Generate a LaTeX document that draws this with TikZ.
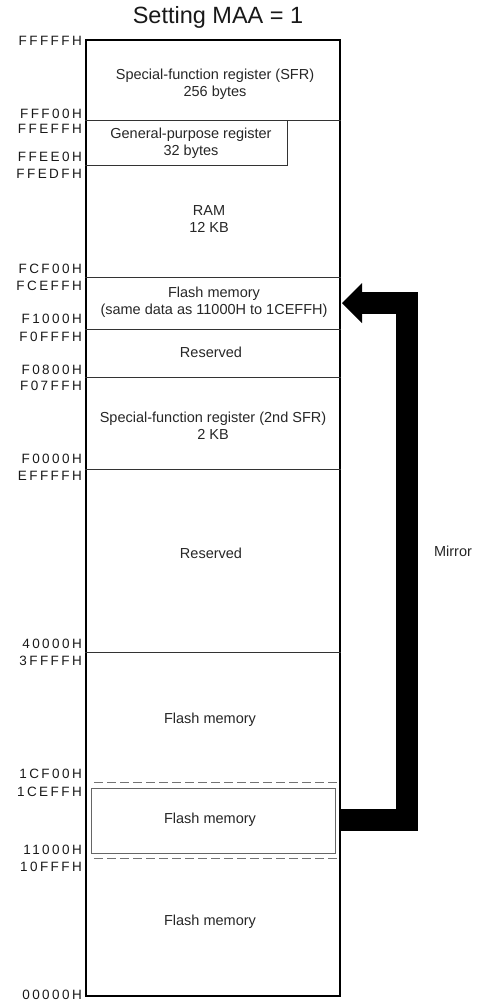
\documentclass[tikz,border=0pt]{standalone}
\usepackage{fontspec}
\setmainfont{Liberation Sans}
\newfontfamily\addrfont[LetterSpace=18]{Liberation Sans}
\usepackage{tikz}
\usetikzlibrary{positioning, arrows.meta}

\begin{document}
\begin{tikzpicture}[
        x=1pt, y=-1pt,
        mapbox/.style={rectangle, draw=black, line width=1.3pt, minimum width=254pt, minimum height=956pt, inner sep=0pt},
        sepline/.style={draw=black!80, line width=0.8pt},
        dashline/.style={draw=black!55, line width=0.8pt, dash pattern=on 9pt off 4pt},
        area/.style={align=center, text=black!85, font=\fontsize{14.5}{17}\selectfont, inner sep=0pt},
        addr/.style={anchor=east, inner sep=0pt, text=black!90, font=\addrfont\fontsize{13.5}{14}\selectfont},
        mirrorarrow/.style={line width=22pt, line join=miter, -{Triangle[length=20pt 0 0, width=40pt 0 0, line width=0pt 0 0]}}
    ]
    \useasboundingbox (0,0) rectangle (481,1002);
    \node[font=\fontsize{23.5}{26}\selectfont, text=black!90] (title) at (218,17) {Setting MAA = 1};
    \node[mapbox] (map) at (213,518) {};

    % boundaries
    \draw[sepline] (map.west |- 0,120) -- (map.east |- 0,120);
    \draw[sepline] (map.west |- 0,165) -- (287,165) -- (287,120);
    \draw[sepline] (map.west |- 0,277) -- (map.east |- 0,277);
    \draw[sepline] (map.west |- 0,329) -- (map.east |- 0,329);
    \draw[sepline] (map.west |- 0,377) -- (map.east |- 0,377);
    \draw[sepline] (map.west |- 0,469) -- (map.east |- 0,469);
    \draw[sepline] (map.west |- 0,652) -- (map.east |- 0,652);
    \draw[dashline] (94,782) -- (map.east |- 0,782);
    \draw[dashline] (94,858) -- (map.east |- 0,858);
    \node[draw=black!60, line width=0.8pt, minimum width=244pt, minimum height=65pt, inner sep=0pt] (srcbox) at (213.7,820.5) {};

    % areas
    \node[area] (sfr) at (215,84) {Special-function register (SFR)\\256 bytes};
    \node[area] (gpr) at (191,143) {General-purpose register\\32 bytes};
    \node[area] (ram) at (209,219) {RAM\\12 KB};
    \node[area] (flashmir) at (214,302) {Flash memory\\(same data as 11000H to 1CEFFH)};
    \node[area] (rsvA) at (211,352) {Reserved};
    \node[area] (sfrB) at (213,426) {Special-function register (2nd SFR)\\2 KB};
    \node[area] (rsvB) at (211,553) {Reserved};
    \node[area] (flashA) at (210,720) {Flash memory};
    \node[area] (flashsrc) at (210,820) {Flash memory};
    \node[area] (flashB) at (210,922) {Flash memory};
    \node[area] (mirror) at (453,551) {Mirror};

    % addresses
    \node[addr] (a1) at (82,41) {FFFFFH};
    \node[addr] (a2) at (82,114) {FFF00H};
    \node[addr] (a3) at (82,129) {FFEFFH};
    \node[addr] (a4) at (82,157) {FFEE0H};
    \node[addr] (a5) at (82,174) {FFEDFH};
    \node[addr] (a6) at (82,269) {FCF00H};
    \node[addr] (a7) at (82,286) {FCEFFH};
    \node[addr] (a8) at (82,319) {F1000H};
    \node[addr] (a9) at (82,337) {F0FFFH};
    \node[addr] (a10) at (82,370) {F0800H};
    \node[addr] (a11) at (82,386) {F07FFH};
    \node[addr] (a12) at (82,459) {F0000H};
    \node[addr] (a13) at (82,476) {EFFFFH};
    \node[addr] (a14) at (82,644) {40000H};
    \node[addr] (a15) at (82,661) {3FFFFH};
    \node[addr] (a16) at (82,774) {1CF00H};
    \node[addr] (a17) at (82,792) {1CEFFH};
    \node[addr] (a18) at (82,850) {11000H};
    \node[addr] (a19) at (82,867) {10FFFH};
    \node[addr] (a20) at (82,995) {00000H};

    \coordinate (turn) at (407,303);
    \draw[mirrorarrow] (map.east |- flashsrc) -| (turn) -- (342,303);
\end{tikzpicture}
\end{document}
